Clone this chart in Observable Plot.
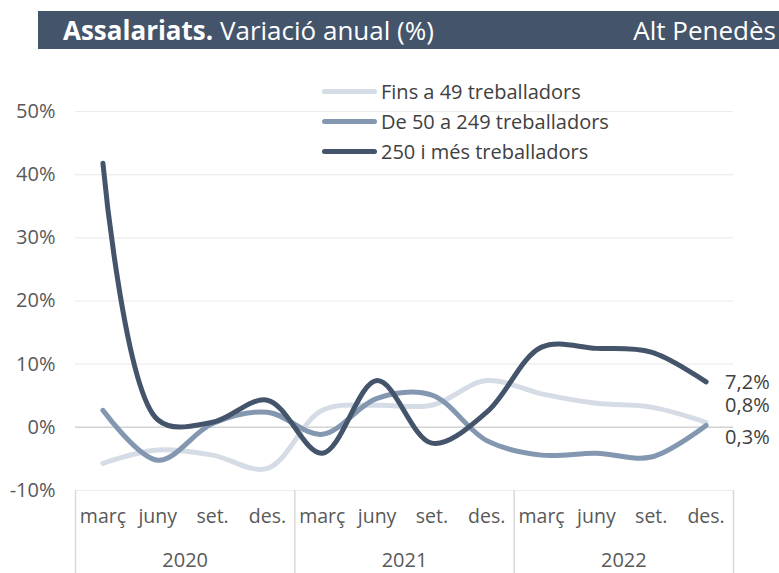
<!DOCTYPE html>
<html>
<head>
<meta charset="utf-8">
<script src="https://cdn.jsdelivr.net/npm/d3@7"></script>
<script src="https://cdn.jsdelivr.net/npm/@observablehq/plot@0.6"></script>
<style>
  body { margin: 0; background: #fff; font-family: "Open Sans", Lato, sans-serif; }
  #wrap { position: relative; width: 779px; height: 573px; overflow: hidden; }
  #title { position: absolute; left: 38px; top: 11px; width: 741px; height: 38px; background: #44546a; color: #fff;
           font-size: 26px; line-height: 38px; box-sizing: border-box; padding: 0 3px 0 25px; display: flex; justify-content: space-between; white-space: nowrap; }
  #title b { font-weight: 700; }
  #chart { position: absolute; left: 0; top: 48px; }
  #legend { position: absolute; left: 322px; top: 76px; font-size: 20px; color: #404040; }
  .row { display: flex; align-items: center; height: 30px; white-space: nowrap; }
  .sw { width: 55px; height: 5px; border-radius: 3px; margin-right: 4px; }
</style>
</head>
<body>
<div id="wrap">
  <div id="title"><span><b>Assalariats.</b> Variació anual (%)</span><span>Alt Penedès</span></div>
  <div id="chart"></div>
  <div id="legend"></div>
</div>
<script>
const months = ["març", "juny", "set.", "des."];
const years = ["2020", "2021", "2022"];
const seriesNames = ["Fins a 49 treballadors", "De 50 a 249 treballadors", "250 i més treballadors"];
const colors = ["#d6dce5", "#8497b0", "#44546a"];
const fins49 = [-5.7, -3.6, -4.4, -6.5, 2.7, 3.5, 3.5, 7.4, 5.3, 3.8, 3.2, 0.8];
const de50 = [2.7, -5.2, 0.6, 2.4, -1.1, 4.6, 5.1, -2.1, -4.4, -4.1, -4.7, 0.3];
const mes250 = [41.8, 1.2, 0.8, 4.3, -4.1, 7.4, -2.5, 2.4, 12.7, 12.5, 11.9, 7.2];
const yTicks = [-10, 0, 10, 20, 30, 40, 50];

const seriesValues = [fins49, de50, mes250];
const rows = [];
seriesValues.forEach((vals, s) => vals.forEach((v, i) => rows.push({ series: seriesNames[s], i, v })));
const quarters = years.flatMap((y, yi) => months.map((m, mi) => ({ i: yi * 4 + mi, label: m })));
const yearRows = years.map((y, yi) => ({ i: yi * 4 + 1.5, label: y }));
const seps = d3.range(years.length + 1).map(k => k * 4 - 0.5);
const lastRows = seriesValues.map((vals, s) => ({ series: seriesNames[s], i: vals.length - 1, v: vals[vals.length - 1] }));
const fmt = v => v.toFixed(1).replace(".", ",") + "%";
const labelDy = [-17, 12, 1];

const font = "'Open Sans', Lato, sans-serif";
const chart = Plot.plot({
  width: 779,
  height: 525,
  marginLeft: 75,
  marginRight: 46,
  marginTop: 63,
  marginBottom: 83,
  style: { fontFamily: font, fontSize: "20px", color: "#595959", overflow: "visible" },
  x: { domain: [-0.5, 11.5], axis: null },
  y: { domain: [-10, 50], axis: null },
  color: { domain: seriesNames, range: colors },
  marks: [
    Plot.gridY(yTicks, { stroke: "#ececec", strokeOpacity: 1, strokeWidth: 1.2 }),
    Plot.ruleY([0], { stroke: "#d4d4d4", strokeWidth: 1.5 }),
    Plot.axisY(yTicks, { label: null, tickSize: 0, tickPadding: 20, tickFormat: d => d + "%", fill: "#595959", fontSize: 20 }),
    Plot.ruleX(seps, { y1: -10, y2: -24, stroke: "#d9d9d9", strokeWidth: 1.5, clip: false }),
    Plot.text(quarters, { x: "i", text: "label", frameAnchor: "bottom", dy: 32, fill: "#595959", fontSize: 19.5 }),
    Plot.text(yearRows, { x: "i", text: "label", frameAnchor: "bottom", dy: 76, fill: "#595959", fontSize: 20 }),
    Plot.line(rows, { x: "i", y: "v", z: "series", stroke: "series", strokeWidth: 5, curve: "catmull-rom" }),
    ...lastRows.map((r, s) => Plot.text([r], { x: "i", y: "v", text: d => fmt(d.v), textAnchor: "start", dx: 19,
      dy: labelDy[s], fill: "#404040", fontSize: 20 }))
  ]
});
document.getElementById("chart").appendChild(chart);

const legend = document.getElementById("legend");
seriesNames.forEach((name, s) => {
  const row = document.createElement("div");
  row.className = "row";
  const sw = document.createElement("div");
  sw.className = "sw";
  sw.style.background = colors[s];
  const t = document.createElement("span");
  t.textContent = name;
  row.appendChild(sw);
  row.appendChild(t);
  legend.appendChild(row);
});
</script>
</body>
</html>
